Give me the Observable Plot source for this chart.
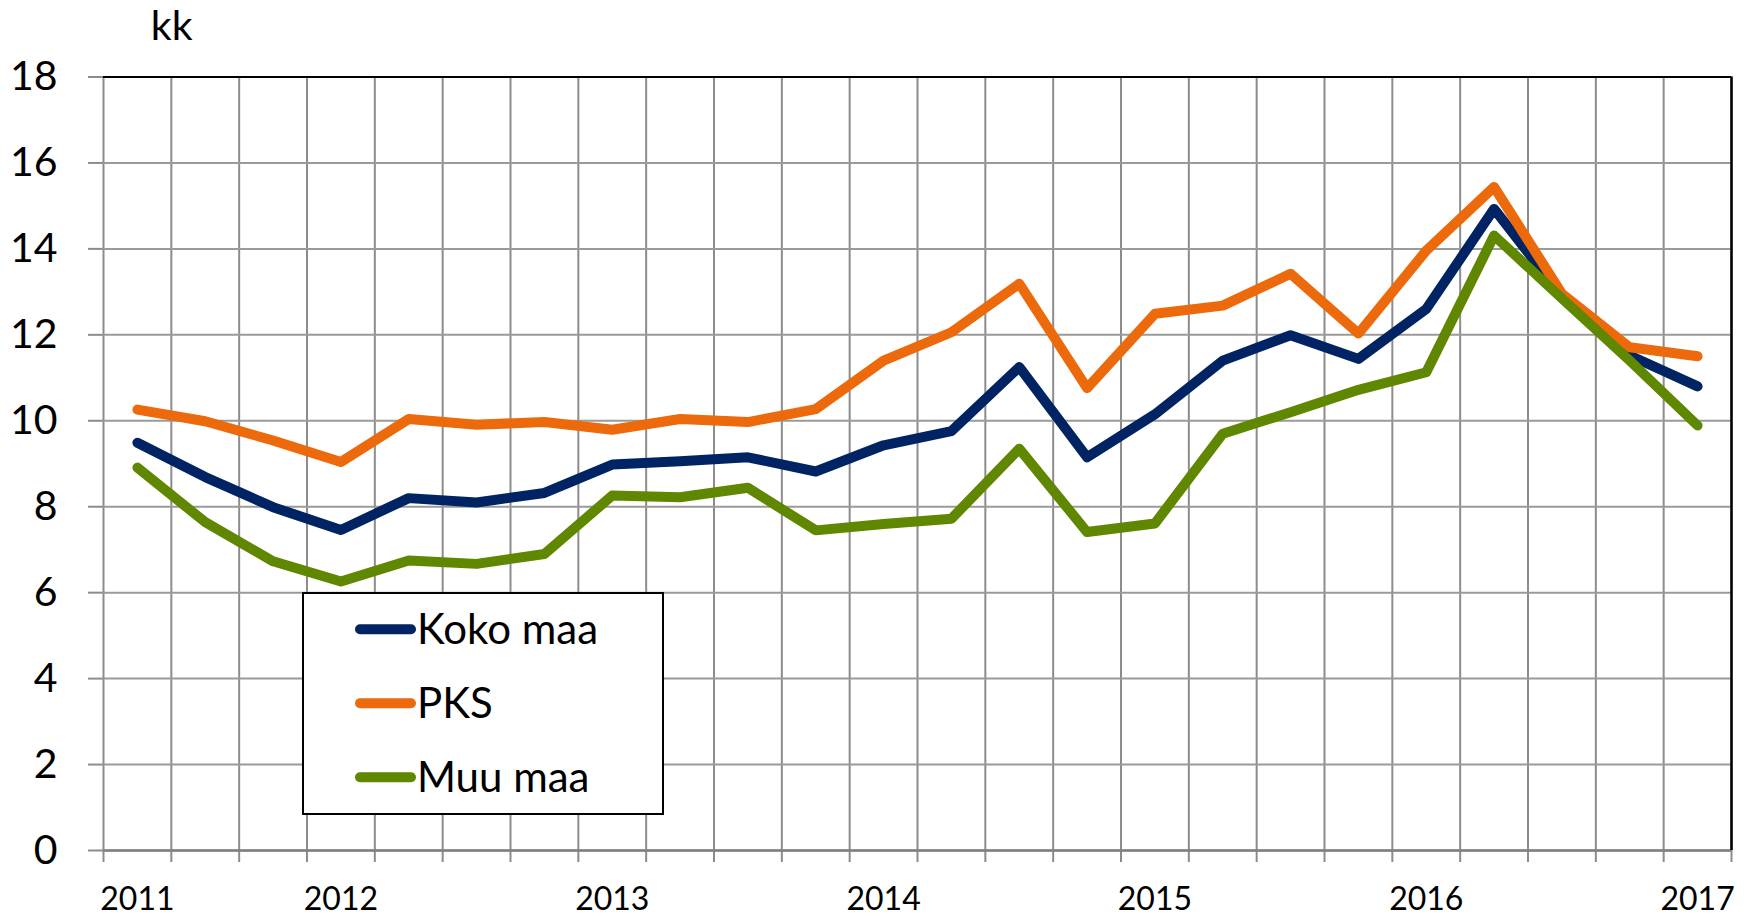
<!DOCTYPE html>
<html><head><meta charset="utf-8">
<script src="https://cdn.jsdelivr.net/npm/d3@7"></script>
<script src="https://cdn.jsdelivr.net/npm/@observablehq/plot@0.6"></script>
<style>
body{margin:0;background:#fff;}
#wrap{position:relative;width:1752px;height:917px;font-family:Lato,sans-serif;}
#overlay{position:absolute;left:0;top:0;pointer-events:none;}
g[aria-label="x-axis tick label"] text{font-size:32px;}
g[aria-label="y-axis tick label"] text{font-size:41px;}
</style></head><body><div id="wrap"></div>
<script>
// ---- data ----
const seriesNames = ["Koko maa", "PKS", "Muu maa"];
const seriesColors = ["#002463", "#EC6A0C", "#5F8700"];
const kokoMaa = [9.49, 8.69, 7.99, 7.46, 8.20, 8.10, 8.32, 8.98, 9.06, 9.15, 8.82, 9.43, 9.76, 11.25, 9.15, 10.15, 11.40, 11.99, 11.44, 12.60, 14.93, 12.90, 11.52, 10.80];
const pks     = [10.26, 9.99, 9.54, 9.04, 10.04, 9.91, 9.97, 9.79, 10.04, 9.97, 10.27, 11.40, 12.06, 13.19, 10.76, 12.49, 12.68, 13.42, 12.03, 13.96, 15.44, 12.96, 11.71, 11.50];
const muuMaa  = [8.91, 7.64, 6.73, 6.26, 6.75, 6.67, 6.90, 8.26, 8.22, 8.44, 7.45, 7.60, 7.72, 9.35, 7.41, 7.61, 9.70, 10.20, 10.72, 11.13, 14.31, 12.85, 11.40, 9.89];
const xLabels = ["2011","","","2012","","","","2013","","","","2014","","","","2015","","","","2016","","","","2017"];
const yTicks = [0, 2, 4, 6, 8, 10, 12, 14, 16, 18];
const yUnit = "kk";

// ---- build ----
const seriesValues = [kokoMaa, pks, muuMaa];
const data = seriesNames.flatMap((name, s) => seriesValues[s].map((v, i) => ({series: name, i, v})));
const n = xLabels.length;
const bounds = d3.range(n + 1).map(i => i - 0.5);
const labelIdx = d3.range(n).filter(i => xLabels[i]);

const W = 1752, H = 917, mL = 103, mR = 21, mT = 76.5, mB = 67;
const chart = Plot.plot({
  width: W, height: H,
  marginLeft: mL, marginRight: mR, marginTop: mT, marginBottom: mB,
  style: {fontFamily: "Lato, sans-serif", background: "#fff", color: "#000"},
  x: {domain: [-0.5, n - 0.5], axis: null},
  y: {domain: [0, 18], axis: null},
  color: {domain: seriesNames, range: seriesColors},
  marks: [
    Plot.ruleX(bounds, {stroke: "#8c8c8c", strokeWidth: 2}),
    Plot.ruleY(yTicks, {stroke: "#9a9a9a", strokeWidth: 2}),
    Plot.axisX({ticks: bounds, tickSize: 12, tickFormat: () => "", label: null, stroke: "#8c8c8c", strokeWidth: 2}),
    Plot.axisX({ticks: labelIdx, tickSize: 0, tickPadding: 37, tickFormat: i => xLabels[i], label: null, fontSize: 32, fill: "#000"}),
    Plot.axisY({ticks: yTicks, tickSize: 15, tickPadding: 31, label: null, fontSize: 41, stroke: "#8c8c8c", strokeWidth: 2, fill: "#000"}),
    Plot.ruleY([0], {stroke: "#808080", strokeWidth: 2.5}),
    Plot.ruleY([18], {stroke: "#000", strokeWidth: 2}),
    Plot.ruleX([n - 0.5], {stroke: "#000", strokeWidth: 2.5}),
    Plot.line(data, {x: "i", y: "v", z: "series", stroke: "series", strokeWidth: 10, strokeLinecap: "round", strokeLinejoin: "round"})
  ]
});
const wrap = document.getElementById("wrap");
wrap.appendChild(chart);

// ---- overlay: unit label and legend ----
const ov = d3.select(wrap).append("svg").attr("id", "overlay").attr("width", W).attr("height", H)
  .style("font-family", "Lato, sans-serif");
ov.append("text").attr("x", 171.7).attr("y", 40).attr("text-anchor", "middle")
  .attr("font-size", 41).attr("fill", "#000").text(yUnit);
const lg = ov.append("g").attr("transform", "translate(303,593)");
lg.append("rect").attr("width", 360).attr("height", 221).attr("fill", "#fff").attr("stroke", "#000").attr("stroke-width", 2);
seriesNames.forEach((name, k) => {
  const cy = 36.3 + k * 74;
  lg.append("line").attr("x1", 57).attr("x2", 108).attr("y1", cy).attr("y2", cy)
    .attr("stroke", seriesColors[k]).attr("stroke-width", 10).attr("stroke-linecap", "round");
  lg.append("text").attr("x", 114).attr("y", cy + 15).attr("font-size", 42).attr("fill", "#000").text(name);
});
</script></body></html>
